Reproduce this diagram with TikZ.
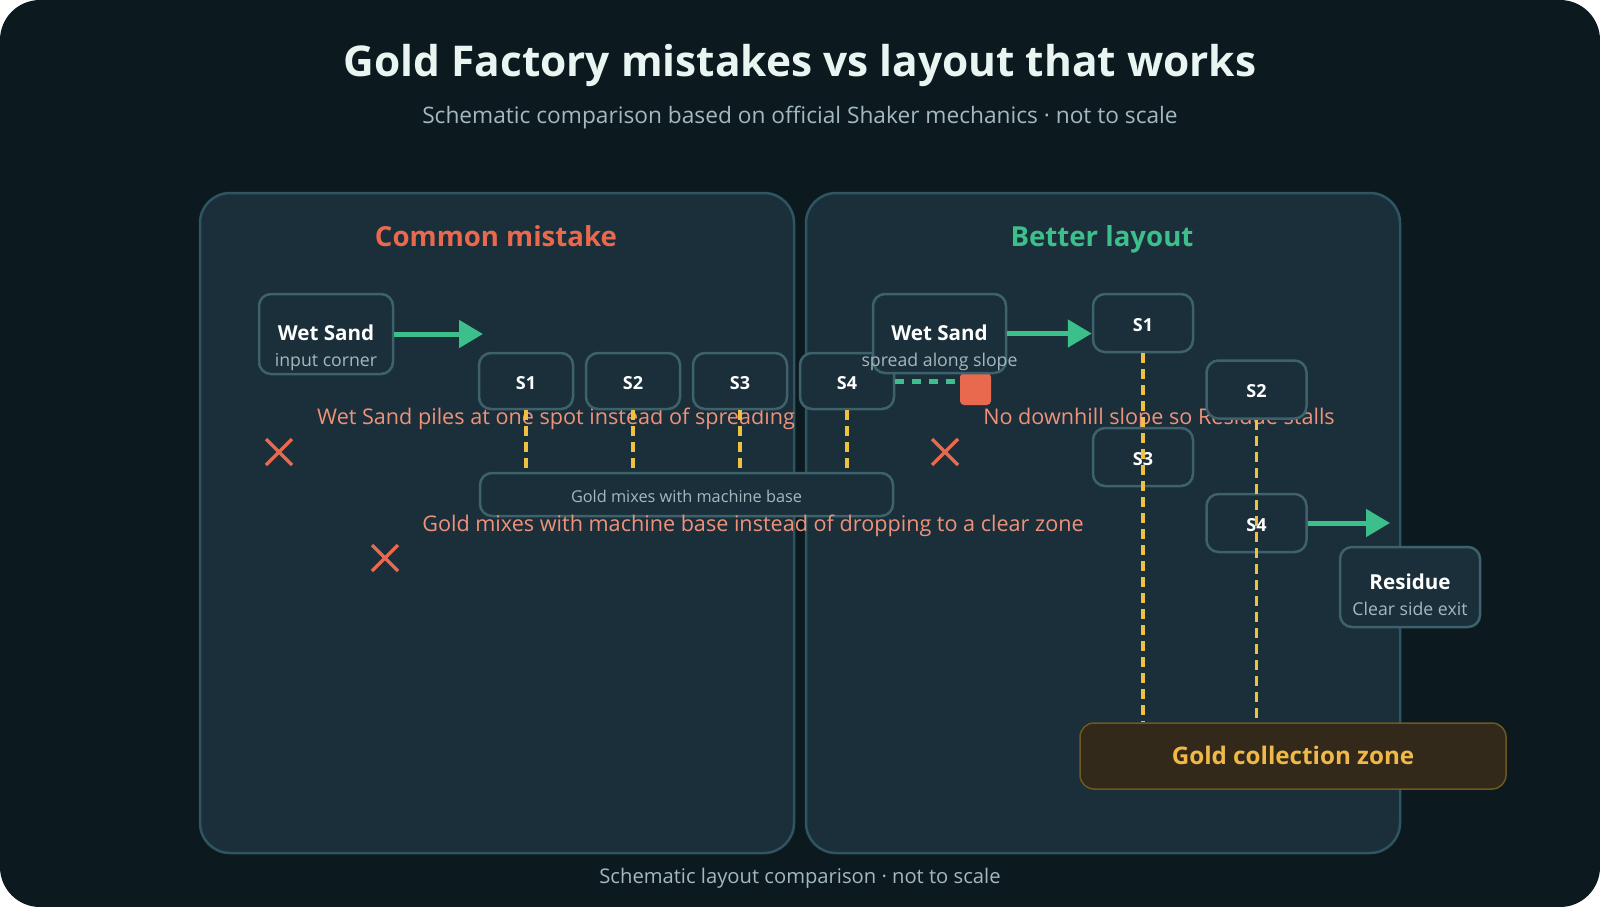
\documentclass[tikz,border=0pt]{standalone}
\usepackage{fontspec}
\setmainfont{Open Sans}
\usetikzlibrary{arrows.meta}
\definecolor{bg}{HTML}{0C1A20}
\definecolor{panelfill}{HTML}{1A2F3A}
\definecolor{panelline}{HTML}{2F5560}
\definecolor{boxline}{HTML}{3E626B}
\definecolor{titlecol}{HTML}{EAF5F2}
\definecolor{subcol}{HTML}{A3B9BD}
\definecolor{grn}{HTML}{3DBF8C}
\definecolor{org}{HTML}{E8694E}
\definecolor{salmon}{HTML}{F0927A}
\definecolor{ylw}{HTML}{F0C040}
\definecolor{zonefill}{HTML}{33291A}
\definecolor{zoneline}{HTML}{6E5822}
\definecolor{zonetext}{HTML}{F0B848}
\tikzset{
  panel/.style={draw=panelline, fill=panelfill, line width=2.5pt, rounded corners=30pt, inner sep=0pt},
  box/.style={draw=boxline, fill=panelfill, line width=2.5pt, rounded corners=12pt, inner sep=0pt},
  zone/.style={draw=zoneline, fill=zonefill, line width=1.5pt, rounded corners=14pt, inner sep=0pt},
  txt/.style={inner sep=0pt, anchor=base},
  titletxt/.style={txt, text=titlecol, font=\fontsize{42.4}{50}\selectfont\bfseries},
  subtitletxt/.style={txt, text=subcol, font=\fontsize{22.7}{27}\selectfont},
  headtxt/.style={txt, font=\fontsize{27.6}{33}\selectfont\bfseries},
  maintxt/.style={txt, text=white, font=\fontsize{20.6}{25}\selectfont\bfseries},
  stxt/.style={txt, text=white, font=\fontsize{18}{22}\selectfont\bfseries},
  smalltxt/.style={txt, text=subcol, font=\fontsize{17.7}{21}\selectfont},
  tinytxt/.style={txt, text=subcol, font=\fontsize{16.3}{20}\selectfont},
  warntxt/.style={txt, text=salmon, font=\fontsize{21.6}{26}\selectfont},
  flow/.style={draw=grn, line width=5pt, -{Triangle[length=24pt,width=27pt]}},
  drop/.style={draw=ylw, line width=3.5pt, dash pattern=on 10pt off 6pt},
  stall/.style={draw=grn, line width=5pt, dash pattern=on 9pt off 8pt},
  cross/.style={draw=org, line width=3.5pt}
}
\begin{document}
\begin{tikzpicture}[x=1pt,y=-1pt]
\useasboundingbox (0,0) rectangle (1600,907);
\fill[white] (0,0) rectangle (1600,907);
\fill[bg, rounded corners=40pt] (0,0) rectangle (1600,907);

% titles
\node[titletxt] (title) at (800,77) {Gold Factory mistakes vs layout that works};
\node[subtitletxt] (subtitle) at (800,123) {Schematic comparison based on official Shaker mechanics · not to scale};

% panels
\node[panel, minimum width=594pt, minimum height=660pt] (lp) at (497,523) {};
\node[panel, minimum width=594pt, minimum height=660pt] (rp) at (1103,523) {};
\node[headtxt, text=org] (lhead) at (496,246) {Common mistake};
\node[headtxt, text=grn] (rhead) at (1102,246) {Better layout};

% ---------- left panel ----------
\node[box, minimum width=134pt, minimum height=80pt] (lws) at (326,334) {};
\node[maintxt] (lwst) at (326,340) {Wet Sand};
\node[smalltxt] (lwss) at (326,366) {input corner};
\coordinate (lwsend) at (483,334);
\draw[flow] (lws.east) -- (lwsend);

\node[warntxt] (warn1) at (556,424) {Wet Sand piles at one spot instead of spreading};

\node[box, minimum width=94pt, minimum height=56pt] (ls1) at (526,381) {};
\node[box, minimum width=94pt, minimum height=56pt] (ls2) at (633,381) {};
\node[box, minimum width=94pt, minimum height=56pt] (ls3) at (740,381) {};
\node[box, minimum width=94pt, minimum height=56pt] (ls4) at (847,381) {};
\node[stxt] at (ls1.center) [yshift=-8pt] {S1};
\node[stxt] at (ls2.center) [yshift=-8pt] {S2};
\node[stxt] at (ls3.center) [yshift=-8pt] {S3};
\node[stxt] at (ls4.center) [yshift=-8pt] {S4};

\node[box, minimum width=413pt, minimum height=43pt] (base) at (686.5,494.5) {};
\node[tinytxt] (baset) at (686.5,502) {Gold mixes with machine base};
\node[warntxt] (warn2) at (753,531) {Gold mixes with machine base instead of dropping to a clear zone};

\draw[drop] (ls1.south) -- (ls1.south |- base.north);
\draw[drop] (ls2.south) -- (ls2.south |- base.north);
\draw[drop] (ls3.south) -- (ls3.south |- base.north);
\draw[drop] (ls4.south) -- (ls4.south |- base.north);

\draw[cross] (266,439) -- (292,465) (292,439) -- (266,465);
\draw[cross] (372,545) -- (398,571) (398,545) -- (372,571);

% ---------- right panel ----------
\node[warntxt] (warn3) at (1159,424) {No downhill slope so Residue stalls};
\draw[cross] (932,439) -- (958,465) (958,439) -- (932,465);

\node[box, minimum width=100pt, minimum height=58pt] (rs1) at (1143,323) {};
\node[box, minimum width=100pt, minimum height=58pt] (rs2) at (1256.5,389.5) {};
\node[box, minimum width=100pt, minimum height=58pt] (rs3) at (1143,457) {};
\node[box, minimum width=100pt, minimum height=58pt] (rs4) at (1256.5,523) {};
\node[stxt] at (rs1.center) [yshift=-8pt] {S1};
\node[stxt] at (rs2.center) [yshift=-8pt] {S2};
\node[stxt] at (rs3.center) [yshift=-8pt] {S3};
\node[stxt] at (rs4.center) [yshift=-8pt] {S4};

\node[fill=org, rounded corners=4pt, minimum width=31pt, minimum height=32pt, inner sep=0pt] (stop) at (975.5,389) {};
\node[box, minimum width=133pt, minimum height=79pt] (rws) at (939.5,333.5) {};
\node[maintxt] (rwst) at (939.5,340) {Wet Sand};
\node[smalltxt] (rwss) at (939.5,366) {spread along slope};
\draw[stall] (ls4.east) -- (ls4.east -| stop.west);
\draw[flow] (rws.east) -- (rws.east -| rs1.west);

\node[box, minimum width=140pt, minimum height=80pt] (res) at (1410,587) {};
\node[maintxt] (rest) at (1410,589) {Residue};
\node[smalltxt] (ress) at (1410,615) {Clear side exit};
\coordinate (resin) at (1390,523);
\draw[flow] (rs4.east) -- (resin);

\node[zone, minimum width=426pt, minimum height=66pt] (zone) at (1293,756) {};
\node[txt, text=zonetext, font=\fontsize{24.2}{28}\selectfont\bfseries] (zonet) at (1293,764.5) {Gold collection zone};

\draw[drop] (rs1.south) -- (rs1.south |- zone.north);
\draw[drop] (rs2.south) -- (rs2.south |- zone.north);

\node[txt, text=subcol, font=\fontsize{20.2}{24}\selectfont] (caption) at (800,883) {Schematic layout comparison · not to scale};
\end{tikzpicture}
\end{document}
